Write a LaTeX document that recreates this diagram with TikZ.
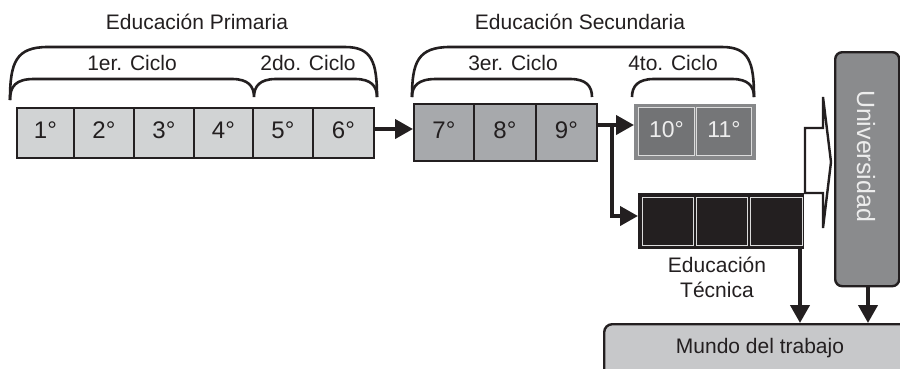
\documentclass[tikz,border=0pt]{standalone}
\usepackage{fontspec}
\setmainfont{Liberation Sans}
\usetikzlibrary{arrows.meta,calc}
\definecolor{ink}{HTML}{231F20}
\definecolor{prim}{HTML}{D1D3D4}
\definecolor{sec}{HTML}{A7A9AC}
\definecolor{fourth}{HTML}{87888A}
\definecolor{fourthin}{HTML}{727375}
\definecolor{univ}{HTML}{8A8B8D}
\definecolor{mundo}{HTML}{C7C8CA}
\definecolor{lightline}{HTML}{DCDCDC}
\definecolor{paletext}{HTML}{EDEDED}
\begin{document}
\begin{tikzpicture}[x=1pt,y=-1pt,
  grade/.style={draw=ink,line width=1.8pt,inner sep=0pt,anchor=north west,
    font=\fontsize{24}{24}\selectfont,text=ink,text height=14pt,text depth=2pt},
  innergrade/.style={draw=lightline,line width=1pt,inner sep=0pt,anchor=north west,
    font=\fontsize{23}{23}\selectfont,text=paletext,text height=14pt,text depth=2pt},
  label/.style={font=\fontsize{21}{21}\selectfont,text=ink,anchor=base,inner sep=0pt},
  bracket/.style={draw=ink,line width=2.6pt},
  flow/.style={draw=ink,line width=4pt,-{Triangle[length=18pt,width=19pt]}},
]
\useasboundingbox (0,0) rectangle (900,368);
\clip (0,0) rectangle (900,368);
\fill[white] (0,0) rectangle (900,368);

% ---------- Primaria ----------
\node[label] (tprim) at (197,29) {Educación Primaria};
\node[label] (tc1) at (132,70) {1er. Ciclo};
\node[label] (tc2) at (308,70) {2do. Ciclo};
\draw[bracket] (10,100) .. controls (10,62) and (16,47) .. (48,47) -- (345,47)
  .. controls (372,47) and (377,62) .. (377,97);
\draw[bracket] (10,100) .. controls (10,86) and (16,79) .. (34,79) -- (232,79)
  .. controls (248,79) and (254,86) .. (254,97)
  .. controls (254,86) and (260,79) .. (276,79) -- (355,79)
  .. controls (371,79) and (377,86) .. (377,97);

\node[grade,fill=prim,minimum width=57pt,minimum height=50pt] (p1) at (16,107) {1°};
\node[grade,fill=prim,minimum width=60pt,minimum height=50pt] (p2) at (73,107) {2°};
\node[grade,fill=prim,minimum width=60pt,minimum height=50pt] (p3) at (133,107) {3°};
\node[grade,fill=prim,minimum width=59pt,minimum height=50pt] (p4) at (193,107) {4°};
\node[grade,fill=prim,minimum width=60pt,minimum height=50pt] (p5) at (252,107) {5°};
\node[grade,fill=prim,minimum width=61pt,minimum height=50pt] (p6) at (312,107) {6°};

% ---------- Secundaria ----------
\node[label] (tsec) at (580,29) {Educación Secundaria};
\node[label] (tc3) at (513,70) {3er. Ciclo};
\node[label] (tc4) at (673,70) {4to. Ciclo};
\draw[bracket] (412,97) .. controls (412,62) and (418,47) .. (450,47) -- (722,47)
  .. controls (749,47) and (754,62) .. (754,97);
\draw[bracket] (412,97) .. controls (412,86) and (418,79) .. (436,79) -- (570,79)
  .. controls (586,79) and (592,86) .. (592,97);
\draw[bracket] (632,97) .. controls (632,86) and (638,79) .. (654,79) -- (732,79)
  .. controls (748,79) and (754,86) .. (754,97);

\node[grade,fill=sec,minimum width=60pt,minimum height=57pt] (s7) at (413,103) {7°};
\node[grade,fill=sec,minimum width=62pt,minimum height=57pt] (s8) at (473,103) {8°};
\node[grade,fill=sec,minimum width=61pt,minimum height=57pt] (s9) at (535,103) {9°};

% 4to ciclo
\node[fill=fourth,inner sep=0pt,anchor=north west,minimum width=122pt,minimum height=56pt] (q) at (634,104) {};
\node[innergrade,fill=fourthin,minimum width=56pt,minimum height=48pt] (q10) at (638,107) {10°};
\node[innergrade,fill=fourthin!85!fourth,minimum width=55pt,minimum height=48pt] (q11) at (696,107) {11°};

% Educacion tecnica
\node[fill=ink,inner sep=0pt,anchor=north west,minimum width=166pt,minimum height=56pt] (tec) at (638,193) {};
\node[innergrade,fill=ink,minimum width=51pt,minimum height=48pt] (t1) at (642,197) {};
\node[innergrade,fill=ink,minimum width=51pt,minimum height=48pt] (t2) at (696,197) {};
\node[innergrade,fill=ink,minimum width=52pt,minimum height=48pt] (t3) at (750,197) {};
\node[label] (tt1) at (717,272) {Educación};
\node[label] (tt2) at (717,297) {Técnica};

% Universidad
\node[draw=ink,line width=2.4pt,fill=univ,rounded corners=7pt,inner sep=0pt,
  anchor=north west,minimum width=64pt,minimum height=234pt] (uni) at (834,51) {};
\node[rotate=-90,font=\fontsize{25}{25}\selectfont,text=paletext,inner sep=0pt] (unit) at (866,156) {Universidad};

% Mundo del trabajo
\node[draw=ink,line width=2.4pt,fill=mundo,rounded corners=8pt,inner sep=0pt,
  anchor=north west,minimum width=320pt,minimum height=70pt] (mundo) at (603,323) {};
\node[label] (mt) at (760,353) {Mundo del trabajo};

% block arrow to Universidad
\draw[draw=ink,line width=2.4pt,fill=white,line join=miter]
  (805,128) -- (823,128) -- (823,97) -- (831,162) -- (823,228) -- (823,193) -- (805,193) -- cycle;

% connectors
\coordinate (a1) at (p6.east |- 0,129);
\coordinate (a2) at (s7.west |- 0,129);
\draw[flow] (a1) -- (a2);
\coordinate (b1) at (s9.east |- 0,125);
\coordinate (b2) at (q.west |- 0,125);
\draw[flow] (b1) -- (b2);
\coordinate (br) at (612,125);
\coordinate (bt) at (tec.west |- 0,216);
\draw[flow] (br) |- (bt);
\coordinate (c1) at (800,249);
\coordinate (c2) at (800,323);
\draw[flow] (c1) -- (c2);
\coordinate (d1) at (uni.south -| 868,0);
\coordinate (d2) at (868,323);
\draw[flow] (d1) -- (d2);
\end{tikzpicture}
\end{document}
